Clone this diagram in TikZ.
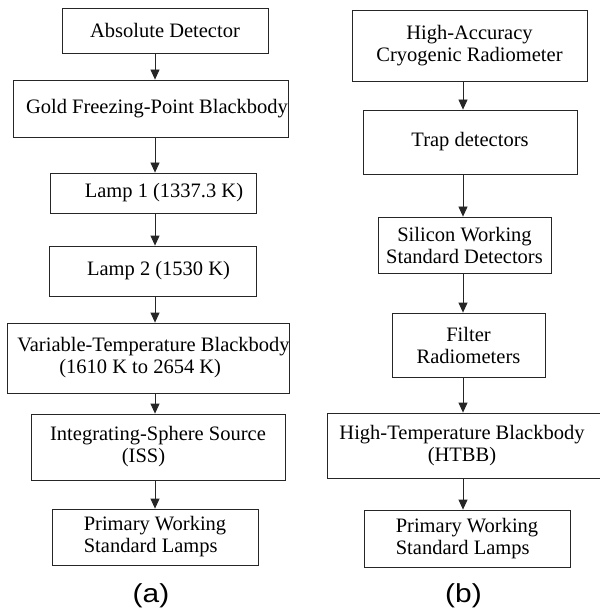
\documentclass[tikz,border=0pt]{standalone}
\usepackage{fontspec}
\setmainfont{Liberation Serif}
\newfontfamily\labfont{Liberation Sans}
\usetikzlibrary{arrows.meta}
\begin{document}
\begin{tikzpicture}[x=1pt,y=-1pt,
  box/.style={draw=black!85, line width=0.8pt, inner sep=0pt, align=center,
    font=\fontsize{20.5}{22}\selectfont},
  arr/.style={draw=black!85, line width=0.8pt, -{Triangle[length=10pt,width=9pt]}},
  sublabel/.style={font=\labfont\fontsize{26}{28}\selectfont, xscale=1.15, inner sep=0pt}]
\useasboundingbox (0,0) rectangle (599,612);
% column (a)
\node[box, minimum width=206pt, minimum height=45pt] (a1) at (165,30.5) {Absolute Detector};
\node[box, minimum width=269pt, minimum height=57pt] (a2) at (150.5,108.5) {\kern13pt Gold Freezing-Point Blackbody};
\node[box, minimum width=206pt, minimum height=40pt] (a3) at (153,193) {\kern22pt Lamp 1 (1337.3 K)};
\node[box, minimum width=207pt, minimum height=50pt] (a4) at (152.5,271) {\kern12pt Lamp 2 (1530 K)};
\node[box, align=left, minimum width=281pt, minimum height=70pt] (a5) at (148.5,358) {\kern10pt Variable-Temperature Blackbody\\\kern52pt (1610 K to 2654 K)};
\node[box, minimum width=254pt, minimum height=66pt] (a6) at (158,447) {Integrating-Sphere Source\\(ISS)\kern29pt};
\node[box, align=left, minimum width=206pt, minimum height=56pt] (a7) at (155,537) {Primary Working\\Standard Lamps};
\node[sublabel] (la) at (151,596) {(a)};
% column (b)
\node[box, minimum width=235pt, minimum height=71pt] (b1) at (469.5,45.5) {High-Accuracy\\Cryogenic Radiometer};
\node[box, minimum width=214pt, minimum height=64pt] (b2) at (470,142) {Trap detectors};
\node[box, minimum width=173pt, minimum height=56pt] (b3) at (464.5,245) {Silicon Working\\Standard Detectors};
\node[box, minimum width=153pt, minimum height=64pt] (b4) at (468.5,345) {Filter\\Radiometers};
\node[box, minimum width=273pt, minimum height=65pt] (b5) at (463.5,445.5) {\kern-3pt High-Temperature Blackbody\\(HTBB)\kern3pt};
\node[box, align=left, minimum width=206pt, minimum height=57pt] (b6) at (467,538.5) {Primary Working\\Standard Lamps};
\node[sublabel] (lb) at (463.5,596) {(b)};
% arrow axes
\coordinate (ax) at (155,0);
\coordinate (bx) at (463,0);
\draw[arr] (a1.south -| ax) -- (a2.north -| ax);
\draw[arr] (a2.south -| ax) -- (a3.north -| ax);
\draw[arr] (a3.south -| ax) -- (a4.north -| ax);
\draw[arr] (a4.south -| ax) -- (a5.north -| ax);
\draw[arr] (a5.south -| ax) -- (a6.north -| ax);
\draw[arr] (a6.south -| ax) -- (a7.north -| ax);
\draw[arr] (b1.south -| bx) -- (b2.north -| bx);
\draw[arr] (b2.south -| bx) -- (b3.north -| bx);
\draw[arr] (b3.south -| bx) -- (b4.north -| bx);
\draw[arr] (b4.south -| bx) -- (b5.north -| bx);
\draw[arr] (b5.south -| bx) -- (b6.north -| bx);
\end{tikzpicture}
\end{document}
